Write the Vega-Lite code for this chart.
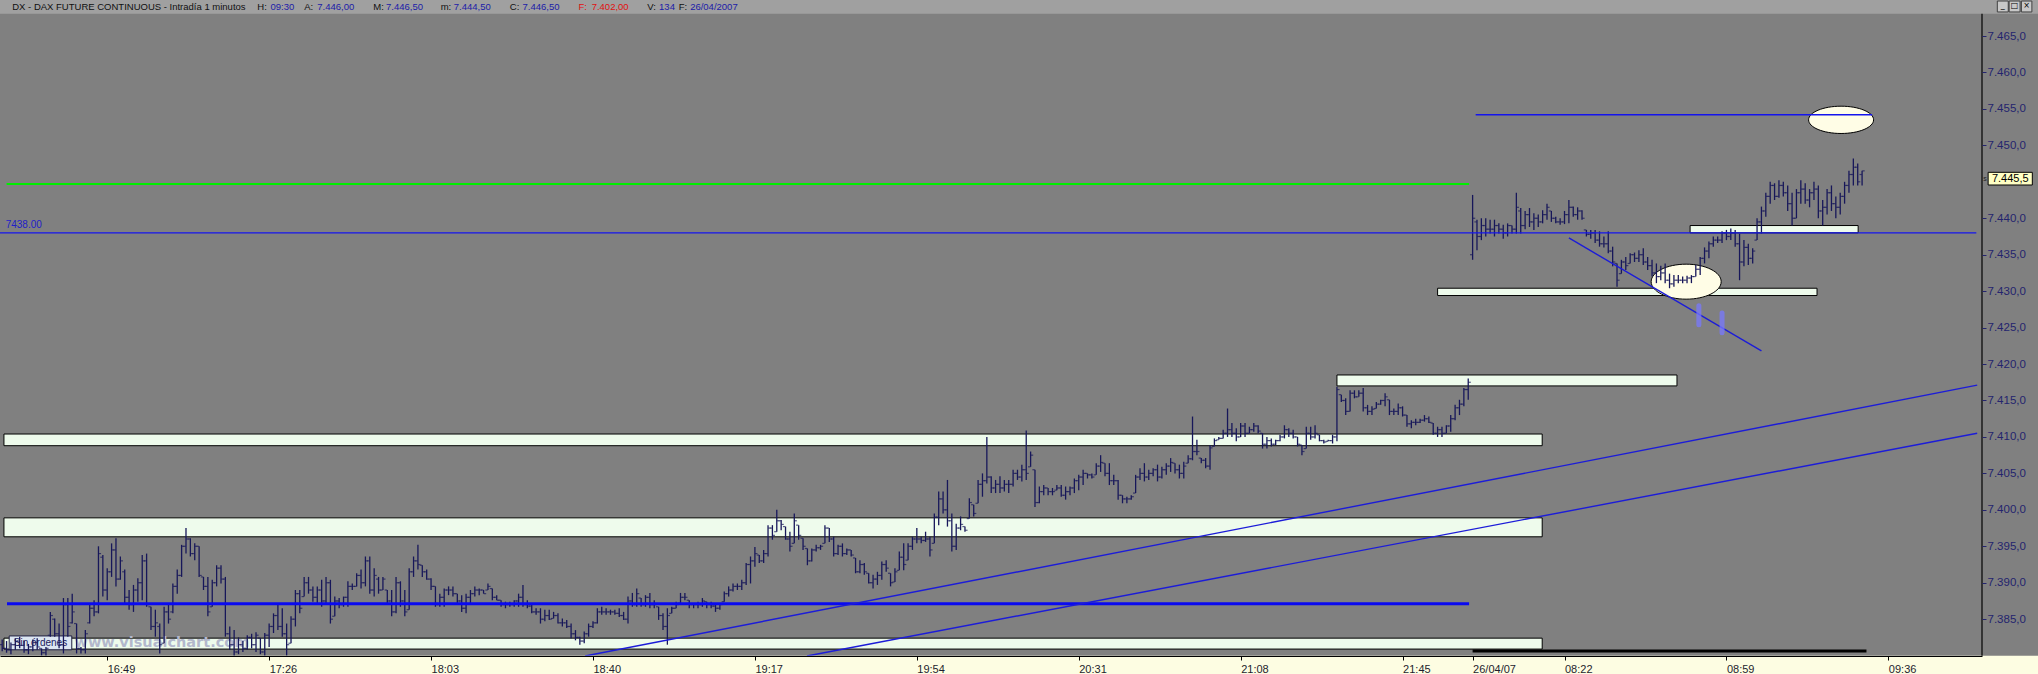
{
"$schema":"https://vega.github.io/schema/vega-lite/v6.json",
"width":1982,"height":674,
"padding":{"left":0,"top":0,"right":56,"bottom":0},
"autosize":{"type":"none"},
"background":"#808080",
"config":{"view":{"stroke":null}},
"datasets":{
"bars":[
{"i":0,"o":7381.5,"h":7382.2,"l":7380.6,"c":7381.0},{"i":1,"o":7381.0,"h":7382.0,"l":7380.4,"c":7380.8},{"i":2,"o":7380.8,"h":7381.8,"l":7380.2,"c":7381.5},{"i":3,"o":7381.5,"h":7382.4,"l":7380.8,"c":7382.0},{"i":4,"o":7382.0,"h":7382.6,"l":7381.0,"c":7381.4},{"i":5,"o":7381.4,"h":7382.0,"l":7380.4,"c":7380.8},{"i":6,"o":7380.8,"h":7381.6,"l":7380.2,"c":7381.2},{"i":7,"o":7381.2,"h":7382.2,"l":7380.6,"c":7381.8},{"i":8,"o":7381.8,"h":7382.4,"l":7380.8,"c":7381.2},{"i":9,"o":7381.0,"h":7381.0,"l":7380.0,"c":7380.4},
{"i":10,"o":7380.4,"h":7381.2,"l":7380.0,"c":7381.0},{"i":11,"o":7382.8,"h":7386.0,"l":7382.6,"c":7385.5},{"i":12,"o":7385.0,"h":7385.1,"l":7382.6,"c":7383.0},{"i":13,"o":7383.0,"h":7384.4,"l":7381.0,"c":7381.5},{"i":14,"o":7381.5,"h":7387.9,"l":7380.3,"c":7387.0},{"i":15,"o":7387.0,"h":7387.9,"l":7382.6,"c":7384.0},{"i":16,"o":7384.5,"h":7388.5,"l":7384.4,"c":7386.0},{"i":17,"o":7384.4,"h":7384.4,"l":7380.3,"c":7381.0},{"i":18,"o":7381.0,"h":7381.2,"l":7380.3,"c":7380.8},{"i":19,"o":7380.8,"h":7383.5,"l":7380.3,"c":7383.0},
{"i":20,"o":7384.5,"h":7387.2,"l":7384.4,"c":7386.5},{"i":21,"o":7386.5,"h":7387.6,"l":7385.4,"c":7386.0},{"i":22,"o":7386.0,"h":7395.0,"l":7385.8,"c":7394.0},{"i":23,"o":7393.5,"h":7393.8,"l":7388.1,"c":7389.0},{"i":24,"o":7389.0,"h":7392.0,"l":7387.6,"c":7391.5},{"i":25,"o":7391.5,"h":7395.4,"l":7390.8,"c":7394.5},{"i":26,"o":7394.5,"h":7396.1,"l":7389.5,"c":7390.5},{"i":27,"o":7390.5,"h":7393.6,"l":7390.4,"c":7393.0},{"i":28,"o":7391.5,"h":7391.8,"l":7387.2,"c":7388.0},{"i":29,"o":7388.0,"h":7389.0,"l":7386.3,"c":7387.0},
{"i":30,"o":7387.0,"h":7389.7,"l":7386.0,"c":7389.0},{"i":31,"o":7389.0,"h":7390.6,"l":7387.4,"c":7390.0},{"i":32,"o":7390.0,"h":7393.8,"l":7387.6,"c":7393.0},{"i":33,"o":7393.0,"h":7394.0,"l":7386.7,"c":7387.0},{"i":34,"o":7386.7,"h":7386.7,"l":7383.5,"c":7384.0},{"i":35,"o":7384.0,"h":7386.3,"l":7382.6,"c":7384.5},{"i":36,"o":7384.0,"h":7384.4,"l":7380.3,"c":7381.5},{"i":37,"o":7381.7,"h":7386.7,"l":7381.7,"c":7386.0},{"i":38,"o":7386.0,"h":7387.2,"l":7384.4,"c":7385.0},{"i":39,"o":7386.0,"h":7389.9,"l":7385.8,"c":7389.5},
{"i":40,"o":7389.5,"h":7391.8,"l":7388.5,"c":7391.0},{"i":41,"o":7391.0,"h":7395.2,"l":7390.8,"c":7395.0},{"i":42,"o":7395.0,"h":7397.5,"l":7394.0,"c":7396.0},{"i":43,"o":7396.0,"h":7396.1,"l":7393.6,"c":7394.0},{"i":44,"o":7394.0,"h":7395.4,"l":7393.1,"c":7395.0},{"i":45,"o":7395.0,"h":7395.0,"l":7390.8,"c":7391.0},{"i":46,"o":7390.8,"h":7390.8,"l":7389.0,"c":7389.5},{"i":47,"o":7389.5,"h":7390.8,"l":7385.4,"c":7386.0},{"i":48,"o":7386.7,"h":7390.4,"l":7386.7,"c":7390.0},{"i":49,"o":7390.0,"h":7392.4,"l":7389.5,"c":7392.0},
{"i":50,"o":7392.0,"h":7392.4,"l":7389.9,"c":7390.5},{"i":51,"o":7390.5,"h":7390.8,"l":7382.6,"c":7383.0},{"i":52,"o":7383.0,"h":7384.0,"l":7380.8,"c":7381.5},{"i":53,"o":7381.5,"h":7383.5,"l":7380.0,"c":7380.5},{"i":54,"o":7380.5,"h":7382.5,"l":7380.2,"c":7381.5},{"i":55,"o":7381.5,"h":7382.0,"l":7380.5,"c":7381.0},{"i":56,"o":7381.0,"h":7382.8,"l":7380.8,"c":7382.5},{"i":57,"o":7382.5,"h":7383.0,"l":7381.0,"c":7381.5},{"i":58,"o":7381.5,"h":7383.2,"l":7380.5,"c":7382.8},{"i":59,"o":7382.4,"h":7382.4,"l":7380.2,"c":7380.5},
{"i":60,"o":7380.5,"h":7383.1,"l":7380.0,"c":7382.8},{"i":61,"o":7382.8,"h":7384.4,"l":7381.2,"c":7384.0},{"i":62,"o":7384.0,"h":7385.8,"l":7383.1,"c":7385.5},{"i":63,"o":7385.5,"h":7387.2,"l":7383.5,"c":7384.0},{"i":64,"o":7384.0,"h":7386.5,"l":7382.6,"c":7383.0},{"i":65,"o":7383.0,"h":7384.4,"l":7380.0,"c":7381.5},{"i":66,"o":7381.7,"h":7385.4,"l":7381.7,"c":7385.0},{"i":67,"o":7385.0,"h":7389.0,"l":7384.0,"c":7388.5},{"i":68,"o":7388.5,"h":7389.0,"l":7385.8,"c":7386.5},{"i":69,"o":7388.1,"h":7390.8,"l":7388.1,"c":7390.0},
{"i":70,"o":7390.0,"h":7390.8,"l":7388.5,"c":7389.0},{"i":71,"o":7389.0,"h":7389.5,"l":7387.4,"c":7388.0},{"i":72,"o":7388.0,"h":7389.5,"l":7387.2,"c":7389.0},{"i":73,"o":7389.0,"h":7390.4,"l":7386.7,"c":7387.5},{"i":74,"o":7387.5,"h":7390.8,"l":7387.2,"c":7390.0},{"i":75,"o":7390.0,"h":7390.4,"l":7384.4,"c":7385.0},{"i":76,"o":7385.4,"h":7388.1,"l":7385.4,"c":7387.5},{"i":77,"o":7387.5,"h":7387.9,"l":7386.5,"c":7387.0},{"i":78,"o":7387.0,"h":7388.1,"l":7386.7,"c":7388.0},{"i":79,"o":7388.0,"h":7390.2,"l":7386.7,"c":7389.5},
{"i":80,"o":7389.5,"h":7389.9,"l":7389.0,"c":7389.5},{"i":81,"o":7389.5,"h":7391.3,"l":7389.5,"c":7391.0},{"i":82,"o":7391.0,"h":7391.8,"l":7389.2,"c":7390.0},{"i":83,"o":7390.0,"h":7393.6,"l":7389.5,"c":7393.0},{"i":84,"o":7393.0,"h":7393.6,"l":7388.5,"c":7389.0},{"i":85,"o":7389.0,"h":7392.0,"l":7388.1,"c":7391.0},{"i":86,"o":7390.5,"h":7390.8,"l":7388.5,"c":7389.0},{"i":87,"o":7389.0,"h":7390.8,"l":7389.0,"c":7390.5},{"i":88,"o":7389.0,"h":7389.0,"l":7387.2,"c":7387.5},{"i":89,"o":7387.5,"h":7389.0,"l":7385.4,"c":7386.0},
{"i":90,"o":7386.0,"h":7390.8,"l":7385.8,"c":7390.0},{"i":91,"o":7390.0,"h":7390.2,"l":7386.7,"c":7387.5},{"i":92,"o":7387.5,"h":7389.0,"l":7385.4,"c":7386.0},{"i":93,"o":7386.3,"h":7392.0,"l":7386.3,"c":7391.5},{"i":94,"o":7391.5,"h":7393.6,"l":7390.8,"c":7393.0},{"i":95,"o":7393.0,"h":7395.2,"l":7391.8,"c":7392.5},{"i":96,"o":7392.4,"h":7392.4,"l":7390.8,"c":7391.5},{"i":97,"o":7391.5,"h":7391.8,"l":7390.4,"c":7390.5},{"i":98,"o":7390.5,"h":7390.6,"l":7389.0,"c":7389.5},{"i":99,"o":7389.5,"h":7389.5,"l":7386.7,"c":7387.0},
{"i":100,"o":7387.0,"h":7388.5,"l":7386.7,"c":7388.0},{"i":101,"o":7388.0,"h":7389.2,"l":7386.7,"c":7389.0},{"i":102,"o":7389.0,"h":7389.5,"l":7388.3,"c":7389.0},{"i":103,"o":7389.0,"h":7389.5,"l":7388.1,"c":7388.5},{"i":104,"o":7388.5,"h":7388.5,"l":7387.2,"c":7387.5},{"i":105,"o":7387.5,"h":7388.3,"l":7386.0,"c":7386.5},{"i":106,"o":7386.5,"h":7388.5,"l":7385.8,"c":7388.0},{"i":107,"o":7388.0,"h":7389.0,"l":7387.0,"c":7388.5},{"i":108,"o":7388.5,"h":7389.5,"l":7388.1,"c":7389.0},{"i":109,"o":7389.0,"h":7389.2,"l":7388.3,"c":7389.0},
{"i":110,"o":7389.0,"h":7389.0,"l":7388.5,"c":7388.5},{"i":111,"o":7389.0,"h":7389.9,"l":7389.0,"c":7389.5},{"i":112,"o":7389.2,"h":7389.2,"l":7387.6,"c":7388.0},{"i":113,"o":7388.0,"h":7388.3,"l":7387.6,"c":7387.6},{"i":114,"o":7387.6,"h":7387.6,"l":7386.7,"c":7387.0},{"i":115,"o":7387.0,"h":7387.4,"l":7386.5,"c":7387.0},{"i":116,"o":7387.0,"h":7387.4,"l":7386.7,"c":7387.0},{"i":117,"o":7387.0,"h":7387.6,"l":7386.7,"c":7387.5},{"i":118,"o":7387.5,"h":7388.5,"l":7386.7,"c":7388.0},{"i":119,"o":7388.0,"h":7389.7,"l":7386.7,"c":7387.0},
{"i":120,"o":7387.0,"h":7387.6,"l":7386.5,"c":7386.8},{"i":121,"o":7386.8,"h":7387.0,"l":7385.8,"c":7386.0},{"i":122,"o":7386.0,"h":7386.5,"l":7385.6,"c":7386.0},{"i":123,"o":7386.0,"h":7386.5,"l":7384.4,"c":7385.0},{"i":124,"o":7385.0,"h":7386.3,"l":7384.7,"c":7385.5},{"i":125,"o":7385.5,"h":7386.3,"l":7384.9,"c":7385.0},{"i":126,"o":7385.1,"h":7386.0,"l":7385.1,"c":7385.5},{"i":127,"o":7385.5,"h":7385.8,"l":7384.4,"c":7384.5},{"i":128,"o":7384.5,"h":7385.1,"l":7384.0,"c":7384.5},{"i":129,"o":7384.5,"h":7384.9,"l":7383.8,"c":7384.0},
{"i":130,"o":7384.0,"h":7384.4,"l":7382.4,"c":7383.0},{"i":131,"o":7383.0,"h":7383.5,"l":7382.1,"c":7382.5},{"i":132,"o":7382.5,"h":7382.6,"l":7381.5,"c":7382.0},{"i":133,"o":7382.0,"h":7383.3,"l":7381.7,"c":7383.0},{"i":134,"o":7383.0,"h":7384.4,"l":7382.6,"c":7384.0},{"i":135,"o":7384.0,"h":7384.7,"l":7383.8,"c":7384.5},{"i":136,"o":7384.5,"h":7386.5,"l":7384.4,"c":7386.0},{"i":137,"o":7386.0,"h":7386.7,"l":7385.6,"c":7386.0},{"i":138,"o":7386.0,"h":7386.5,"l":7385.6,"c":7386.0},{"i":139,"o":7386.0,"h":7386.3,"l":7385.6,"c":7386.0},
{"i":140,"o":7386.0,"h":7386.3,"l":7385.6,"c":7385.8},{"i":141,"o":7385.8,"h":7386.5,"l":7385.3,"c":7385.5},{"i":142,"o":7385.5,"h":7386.0,"l":7384.9,"c":7385.0},{"i":143,"o":7385.0,"h":7388.1,"l":7384.4,"c":7387.5},{"i":144,"o":7387.5,"h":7388.6,"l":7386.7,"c":7387.0},{"i":145,"o":7387.0,"h":7389.2,"l":7386.7,"c":7388.5},{"i":146,"o":7387.9,"h":7387.9,"l":7386.7,"c":7387.0},{"i":147,"o":7387.0,"h":7388.3,"l":7386.7,"c":7388.0},{"i":148,"o":7388.0,"h":7388.6,"l":7386.5,"c":7387.0},{"i":149,"o":7387.0,"h":7387.6,"l":7386.5,"c":7387.0},
{"i":150,"o":7386.7,"h":7386.7,"l":7384.9,"c":7385.5},{"i":151,"o":7385.5,"h":7385.8,"l":7383.5,"c":7384.0},{"i":152,"o":7384.0,"h":7386.5,"l":7381.5,"c":7385.5},{"i":153,"o":7385.8,"h":7386.7,"l":7385.8,"c":7386.5},{"i":154,"o":7386.5,"h":7387.4,"l":7386.5,"c":7387.0},{"i":155,"o":7387.2,"h":7388.6,"l":7387.2,"c":7388.0},{"i":156,"o":7388.0,"h":7388.6,"l":7387.6,"c":7388.0},{"i":157,"o":7387.6,"h":7387.6,"l":7386.5,"c":7387.0},{"i":158,"o":7387.0,"h":7387.2,"l":7386.5,"c":7387.0},{"i":159,"o":7387.0,"h":7387.4,"l":7386.5,"c":7387.0},
{"i":160,"o":7387.0,"h":7387.9,"l":7386.7,"c":7387.5},{"i":161,"o":7387.4,"h":7387.4,"l":7386.5,"c":7387.0},{"i":162,"o":7387.0,"h":7387.4,"l":7386.5,"c":7386.8},{"i":163,"o":7386.8,"h":7387.2,"l":7386.0,"c":7386.5},{"i":164,"o":7386.5,"h":7387.2,"l":7386.3,"c":7387.0},{"i":165,"o":7387.4,"h":7388.8,"l":7387.4,"c":7388.5},{"i":166,"o":7388.5,"h":7389.5,"l":7388.1,"c":7389.0},{"i":167,"o":7389.0,"h":7389.9,"l":7388.8,"c":7389.5},{"i":168,"o":7389.5,"h":7389.9,"l":7389.0,"c":7389.5},{"i":169,"o":7389.5,"h":7390.4,"l":7389.0,"c":7390.0},
{"i":170,"o":7390.0,"h":7392.7,"l":7389.7,"c":7392.5},{"i":171,"o":7392.5,"h":7393.6,"l":7389.9,"c":7393.0},{"i":172,"o":7393.0,"h":7394.9,"l":7392.2,"c":7394.0},{"i":173,"o":7393.8,"h":7393.8,"l":7392.7,"c":7393.0},{"i":174,"o":7393.0,"h":7394.5,"l":7392.7,"c":7394.0},{"i":175,"o":7394.0,"h":7397.9,"l":7393.6,"c":7397.5},{"i":176,"o":7397.5,"h":7397.9,"l":7395.9,"c":7396.5},{"i":177,"o":7397.0,"h":7400.0,"l":7397.0,"c":7398.5},{"i":178,"o":7398.5,"h":7398.6,"l":7397.2,"c":7398.0},{"i":179,"o":7397.7,"h":7397.7,"l":7395.9,"c":7396.0},
{"i":180,"o":7396.0,"h":7397.0,"l":7394.3,"c":7395.0},{"i":181,"o":7395.4,"h":7399.5,"l":7395.4,"c":7398.5},{"i":182,"o":7397.9,"h":7397.9,"l":7395.9,"c":7396.5},{"i":183,"o":7396.1,"h":7396.1,"l":7394.5,"c":7395.0},{"i":184,"o":7394.7,"h":7394.7,"l":7392.4,"c":7393.0},{"i":185,"o":7393.0,"h":7394.7,"l":7392.9,"c":7394.5},{"i":186,"o":7394.5,"h":7395.2,"l":7394.3,"c":7394.8},{"i":187,"o":7394.8,"h":7395.2,"l":7394.5,"c":7395.0},{"i":188,"o":7395.4,"h":7397.9,"l":7395.4,"c":7397.5},{"i":189,"o":7397.5,"h":7397.5,"l":7395.6,"c":7396.0},
{"i":190,"o":7396.0,"h":7396.3,"l":7393.6,"c":7394.0},{"i":191,"o":7394.0,"h":7395.2,"l":7393.8,"c":7395.0},{"i":192,"o":7395.0,"h":7395.4,"l":7393.6,"c":7394.0},{"i":193,"o":7394.0,"h":7394.7,"l":7393.8,"c":7394.5},{"i":194,"o":7394.5,"h":7394.5,"l":7393.6,"c":7393.8},{"i":195,"o":7393.4,"h":7393.4,"l":7391.3,"c":7391.5},{"i":196,"o":7391.5,"h":7393.1,"l":7391.3,"c":7392.5},{"i":197,"o":7392.5,"h":7392.7,"l":7391.1,"c":7391.5},{"i":198,"o":7391.3,"h":7391.3,"l":7389.9,"c":7390.0},{"i":199,"o":7390.0,"h":7391.1,"l":7389.2,"c":7390.5},
{"i":200,"o":7390.5,"h":7391.5,"l":7389.7,"c":7391.0},{"i":201,"o":7391.0,"h":7392.9,"l":7390.4,"c":7392.5},{"i":202,"o":7392.5,"h":7393.1,"l":7391.5,"c":7392.0},{"i":203,"o":7391.3,"h":7391.3,"l":7389.5,"c":7390.0},{"i":204,"o":7390.1,"h":7392.0,"l":7390.1,"c":7391.5},{"i":205,"o":7391.7,"h":7394.3,"l":7391.7,"c":7393.5},{"i":206,"o":7393.5,"h":7395.4,"l":7391.7,"c":7392.5},{"i":207,"o":7393.1,"h":7395.4,"l":7393.1,"c":7395.0},{"i":208,"o":7395.0,"h":7396.3,"l":7394.5,"c":7396.0},{"i":209,"o":7396.0,"h":7397.5,"l":7395.4,"c":7396.0},
{"i":210,"o":7396.0,"h":7396.3,"l":7395.4,"c":7395.8},{"i":211,"o":7395.8,"h":7397.0,"l":7395.6,"c":7396.0},{"i":212,"o":7396.0,"h":7396.3,"l":7393.6,"c":7394.5},{"i":213,"o":7395.4,"h":7399.5,"l":7395.4,"c":7399.0},{"i":214,"o":7399.0,"h":7402.5,"l":7397.9,"c":7401.5},{"i":215,"o":7401.5,"h":7402.5,"l":7399.5,"c":7400.0},{"i":216,"o":7400.0,"h":7404.1,"l":7397.7,"c":7398.5},{"i":217,"o":7398.5,"h":7399.5,"l":7394.3,"c":7395.0},{"i":218,"o":7395.0,"h":7398.1,"l":7394.5,"c":7397.5},{"i":219,"o":7397.5,"h":7399.1,"l":7397.2,"c":7398.0},
{"i":220,"o":7397.7,"h":7397.7,"l":7397.0,"c":7397.2},{"i":221,"o":7398.8,"h":7401.6,"l":7398.8,"c":7401.0},{"i":222,"o":7400.7,"h":7400.7,"l":7399.1,"c":7399.5},{"i":223,"o":7400.9,"h":7404.1,"l":7400.9,"c":7403.5},{"i":224,"o":7403.5,"h":7405.0,"l":7401.8,"c":7404.0},{"i":225,"o":7404.0,"h":7410.0,"l":7403.6,"c":7404.5},{"i":226,"o":7404.5,"h":7404.6,"l":7402.3,"c":7403.0},{"i":227,"o":7403.0,"h":7404.1,"l":7402.3,"c":7403.5},{"i":228,"o":7403.5,"h":7404.6,"l":7402.3,"c":7403.0},{"i":229,"o":7403.0,"h":7404.1,"l":7402.5,"c":7403.5},
{"i":230,"o":7403.5,"h":7404.1,"l":7402.3,"c":7403.5},{"i":231,"o":7403.5,"h":7405.5,"l":7403.2,"c":7405.0},{"i":232,"o":7405.0,"h":7405.5,"l":7404.1,"c":7404.5},{"i":233,"o":7404.5,"h":7406.2,"l":7403.9,"c":7405.5},{"i":234,"o":7405.5,"h":7410.9,"l":7404.1,"c":7405.0},{"i":235,"o":7405.9,"h":7408.0,"l":7405.9,"c":7407.5},{"i":236,"o":7405.5,"h":7405.5,"l":7400.4,"c":7401.0},{"i":237,"o":7401.0,"h":7403.2,"l":7400.9,"c":7402.5},{"i":238,"o":7402.5,"h":7403.4,"l":7402.0,"c":7403.0},{"i":239,"o":7403.0,"h":7403.0,"l":7402.0,"c":7402.5},
{"i":240,"o":7402.5,"h":7403.0,"l":7402.0,"c":7402.5},{"i":241,"o":7402.7,"h":7403.4,"l":7402.7,"c":7403.0},{"i":242,"o":7403.0,"h":7403.4,"l":7401.8,"c":7402.0},{"i":243,"o":7402.0,"h":7403.2,"l":7401.4,"c":7402.5},{"i":244,"o":7402.5,"h":7403.2,"l":7402.0,"c":7403.0},{"i":245,"o":7403.0,"h":7404.3,"l":7402.3,"c":7404.0},{"i":246,"o":7404.0,"h":7404.8,"l":7402.7,"c":7404.5},{"i":247,"o":7404.5,"h":7405.5,"l":7403.4,"c":7405.0},{"i":248,"o":7405.0,"h":7405.0,"l":7404.3,"c":7404.8},{"i":249,"o":7404.8,"h":7405.0,"l":7404.3,"c":7404.5},
{"i":250,"o":7404.8,"h":7406.4,"l":7404.8,"c":7406.0},{"i":251,"o":7406.0,"h":7407.5,"l":7405.2,"c":7406.5},{"i":252,"o":7406.4,"h":7406.4,"l":7404.6,"c":7405.0},{"i":253,"o":7405.0,"h":7406.4,"l":7403.4,"c":7404.0},{"i":254,"o":7404.0,"h":7404.8,"l":7403.4,"c":7404.0},{"i":255,"o":7404.0,"h":7404.1,"l":7401.4,"c":7402.0},{"i":256,"o":7402.0,"h":7402.0,"l":7400.9,"c":7401.5},{"i":257,"o":7401.5,"h":7401.8,"l":7400.9,"c":7401.5},{"i":258,"o":7401.5,"h":7402.0,"l":7401.4,"c":7401.8},{"i":259,"o":7402.3,"h":7404.8,"l":7402.3,"c":7404.5},
{"i":260,"o":7404.5,"h":7405.7,"l":7404.1,"c":7405.0},{"i":261,"o":7405.0,"h":7406.4,"l":7403.9,"c":7404.5},{"i":262,"o":7404.5,"h":7405.5,"l":7404.1,"c":7405.0},{"i":263,"o":7405.0,"h":7405.7,"l":7404.6,"c":7405.5},{"i":264,"o":7405.5,"h":7406.2,"l":7403.9,"c":7404.5},{"i":265,"o":7404.5,"h":7405.9,"l":7404.3,"c":7405.5},{"i":266,"o":7405.5,"h":7406.4,"l":7404.8,"c":7406.0},{"i":267,"o":7406.0,"h":7407.1,"l":7405.2,"c":7406.5},{"i":268,"o":7406.4,"h":7406.4,"l":7405.0,"c":7405.5},{"i":269,"o":7405.5,"h":7406.2,"l":7404.3,"c":7405.0},
{"i":270,"o":7405.0,"h":7406.6,"l":7404.3,"c":7406.0},{"i":271,"o":7406.4,"h":7407.5,"l":7406.4,"c":7407.0},{"i":272,"o":7407.0,"h":7412.8,"l":7406.8,"c":7408.0},{"i":273,"o":7408.0,"h":7409.6,"l":7407.5,"c":7408.0},{"i":274,"o":7407.1,"h":7407.1,"l":7406.4,"c":7406.8},{"i":275,"o":7406.8,"h":7407.1,"l":7405.7,"c":7406.0},{"i":276,"o":7406.0,"h":7408.9,"l":7405.5,"c":7408.5},{"i":277,"o":7408.7,"h":7409.8,"l":7408.7,"c":7409.5},{"i":278,"o":7409.6,"h":7410.0,"l":7409.6,"c":7409.8},{"i":279,"o":7409.8,"h":7411.0,"l":7409.8,"c":7410.5},
{"i":280,"o":7410.5,"h":7413.9,"l":7410.0,"c":7411.0},{"i":281,"o":7411.0,"h":7411.9,"l":7410.0,"c":7410.5},{"i":282,"o":7410.5,"h":7411.2,"l":7409.4,"c":7410.0},{"i":283,"o":7410.0,"h":7411.9,"l":7410.0,"c":7411.5},{"i":284,"o":7411.5,"h":7411.9,"l":7410.0,"c":7410.5},{"i":285,"o":7410.5,"h":7411.4,"l":7410.5,"c":7411.0},{"i":286,"o":7411.0,"h":7411.9,"l":7410.7,"c":7411.5},{"i":287,"o":7411.5,"h":7411.6,"l":7410.5,"c":7410.8},{"i":288,"o":7410.5,"h":7410.5,"l":7408.4,"c":7409.0},{"i":289,"o":7409.0,"h":7410.0,"l":7408.4,"c":7409.5},
{"i":290,"o":7409.5,"h":7409.8,"l":7408.7,"c":7409.0},{"i":291,"o":7409.0,"h":7409.6,"l":7408.9,"c":7409.5},{"i":292,"o":7409.5,"h":7410.3,"l":7409.4,"c":7410.0},{"i":293,"o":7410.0,"h":7411.6,"l":7409.8,"c":7411.0},{"i":294,"o":7411.0,"h":7411.2,"l":7410.0,"c":7410.5},{"i":295,"o":7410.5,"h":7411.0,"l":7409.8,"c":7410.0},{"i":296,"o":7410.0,"h":7410.0,"l":7408.7,"c":7409.0},{"i":297,"o":7408.9,"h":7408.9,"l":7407.5,"c":7408.0},{"i":298,"o":7408.4,"h":7411.4,"l":7408.4,"c":7410.5},{"i":299,"o":7410.5,"h":7411.4,"l":7409.6,"c":7410.0},
{"i":300,"o":7410.0,"h":7411.6,"l":7409.8,"c":7410.5},{"i":301,"o":7410.3,"h":7410.3,"l":7409.4,"c":7409.5},{"i":302,"o":7409.5,"h":7409.6,"l":7409.1,"c":7409.3},{"i":303,"o":7409.4,"h":7409.6,"l":7409.4,"c":7409.5},{"i":304,"o":7409.5,"h":7410.3,"l":7409.1,"c":7410.0},{"i":305,"o":7410.0,"h":7416.9,"l":7409.4,"c":7416.5},{"i":306,"o":7415.8,"h":7415.8,"l":7414.8,"c":7415.0},{"i":307,"o":7415.0,"h":7415.3,"l":7413.0,"c":7413.5},{"i":308,"o":7413.5,"h":7416.4,"l":7413.5,"c":7416.0},{"i":309,"o":7416.0,"h":7416.4,"l":7415.3,"c":7415.5},
{"i":310,"o":7415.5,"h":7416.4,"l":7415.5,"c":7416.0},{"i":311,"o":7416.0,"h":7416.7,"l":7413.5,"c":7414.0},{"i":312,"o":7414.0,"h":7414.4,"l":7413.0,"c":7413.5},{"i":313,"o":7413.5,"h":7414.2,"l":7413.0,"c":7413.8},{"i":314,"o":7413.9,"h":7414.8,"l":7413.9,"c":7414.5},{"i":315,"o":7414.5,"h":7415.1,"l":7414.4,"c":7415.0},{"i":316,"o":7415.0,"h":7416.0,"l":7414.2,"c":7415.5},{"i":317,"o":7415.1,"h":7415.1,"l":7413.0,"c":7413.5},{"i":318,"o":7413.5,"h":7413.9,"l":7413.0,"c":7413.5},{"i":319,"o":7413.5,"h":7414.6,"l":7413.0,"c":7414.0},
{"i":320,"o":7414.0,"h":7414.2,"l":7412.8,"c":7413.0},{"i":321,"o":7413.0,"h":7413.0,"l":7411.4,"c":7411.8},{"i":322,"o":7411.8,"h":7412.3,"l":7411.2,"c":7412.0},{"i":323,"o":7412.0,"h":7412.5,"l":7411.6,"c":7412.0},{"i":324,"o":7412.0,"h":7412.5,"l":7411.9,"c":7412.3},{"i":325,"o":7412.3,"h":7413.0,"l":7412.1,"c":7412.5},{"i":326,"o":7412.5,"h":7412.8,"l":7411.9,"c":7412.0},{"i":327,"o":7411.9,"h":7411.9,"l":7410.3,"c":7410.5},{"i":328,"o":7410.5,"h":7411.4,"l":7410.0,"c":7411.0},{"i":329,"o":7411.0,"h":7411.4,"l":7410.0,"c":7410.5},
{"i":330,"o":7410.5,"h":7411.6,"l":7410.5,"c":7411.5},{"i":331,"o":7411.5,"h":7413.0,"l":7410.7,"c":7412.5},{"i":332,"o":7412.5,"h":7414.4,"l":7412.3,"c":7414.0},{"i":333,"o":7414.0,"h":7415.1,"l":7413.0,"c":7414.5},{"i":334,"o":7414.5,"h":7416.7,"l":7414.2,"c":7416.5},{"i":335,"o":7416.5,"h":7418.0,"l":7415.1,"c":7417.5},
{"i":336,"o":7435.0,"h":7443.2,"l":7434.3,"c":7440.0},{"i":337,"o":7439.5,"h":7439.8,"l":7435.6,"c":7437.5},{"i":338,"o":7437.5,"h":7440.0,"l":7437.0,"c":7439.0},{"i":339,"o":7439.0,"h":7440.0,"l":7437.5,"c":7438.5},
{"i":340,"o":7438.5,"h":7439.8,"l":7437.9,"c":7438.5},{"i":341,"o":7438.5,"h":7439.8,"l":7437.5,"c":7439.0},{"i":342,"o":7439.0,"h":7439.3,"l":7437.9,"c":7438.5},{"i":343,"o":7438.5,"h":7439.1,"l":7437.2,"c":7438.0},{"i":344,"o":7438.0,"h":7439.3,"l":7437.5,"c":7439.0},{"i":345,"o":7439.0,"h":7439.0,"l":7437.9,"c":7438.5},{"i":346,"o":7438.5,"h":7443.5,"l":7437.9,"c":7441.5},{"i":347,"o":7441.0,"h":7441.4,"l":7437.9,"c":7439.0},{"i":348,"o":7439.0,"h":7441.0,"l":7438.5,"c":7440.5},{"i":349,"o":7440.5,"h":7441.4,"l":7438.8,"c":7439.5},
{"i":350,"o":7439.5,"h":7440.7,"l":7438.4,"c":7440.0},{"i":351,"o":7440.0,"h":7440.5,"l":7438.8,"c":7439.5},{"i":352,"o":7439.5,"h":7441.1,"l":7439.3,"c":7440.5},{"i":353,"o":7440.5,"h":7442.0,"l":7439.8,"c":7441.5},{"i":354,"o":7441.0,"h":7441.0,"l":7439.5,"c":7440.0},{"i":355,"o":7440.0,"h":7440.2,"l":7439.3,"c":7439.5},{"i":356,"o":7439.5,"h":7440.0,"l":7439.1,"c":7439.5},{"i":357,"o":7439.5,"h":7441.0,"l":7439.2,"c":7440.5},{"i":358,"o":7440.5,"h":7442.5,"l":7439.3,"c":7441.5},{"i":359,"o":7441.5,"h":7441.6,"l":7440.2,"c":7440.5},
{"i":360,"o":7440.5,"h":7441.5,"l":7439.8,"c":7441.0},{"i":361,"o":7441.0,"h":7441.1,"l":7439.8,"c":7440.0},{"i":362,"o":7438.4,"h":7438.4,"l":7437.5,"c":7437.8},{"i":363,"o":7437.8,"h":7438.4,"l":7437.2,"c":7438.0},{"i":364,"o":7438.0,"h":7438.4,"l":7436.6,"c":7437.0},{"i":365,"o":7437.0,"h":7438.2,"l":7436.1,"c":7436.5},{"i":366,"o":7436.5,"h":7437.5,"l":7436.0,"c":7436.5},{"i":367,"o":7436.5,"h":7438.2,"l":7435.2,"c":7435.5},{"i":368,"o":7435.5,"h":7436.1,"l":7433.4,"c":7434.0},{"i":369,"o":7433.8,"h":7433.8,"l":7430.6,"c":7431.5},
{"i":370,"o":7432.4,"h":7434.3,"l":7432.4,"c":7434.0},{"i":371,"o":7434.0,"h":7434.7,"l":7432.9,"c":7433.5},{"i":372,"o":7433.8,"h":7435.2,"l":7433.8,"c":7435.0},{"i":373,"o":7435.0,"h":7435.3,"l":7434.0,"c":7434.5},{"i":374,"o":7434.5,"h":7435.6,"l":7434.0,"c":7435.0},{"i":375,"o":7435.0,"h":7435.9,"l":7433.6,"c":7434.0},{"i":376,"o":7434.0,"h":7434.7,"l":7432.9,"c":7433.5},{"i":377,"o":7433.5,"h":7434.3,"l":7432.0,"c":7432.5},{"i":378,"o":7432.5,"h":7433.8,"l":7431.1,"c":7432.0},{"i":379,"o":7432.0,"h":7433.5,"l":7431.5,"c":7432.5},
{"i":380,"o":7432.5,"h":7433.8,"l":7431.1,"c":7431.5},{"i":381,"o":7431.5,"h":7432.4,"l":7430.4,"c":7431.0},{"i":382,"o":7431.0,"h":7432.2,"l":7430.6,"c":7431.5},{"i":383,"o":7431.5,"h":7432.2,"l":7431.1,"c":7431.5},{"i":384,"o":7431.5,"h":7432.0,"l":7431.1,"c":7431.5},{"i":385,"o":7431.5,"h":7432.1,"l":7431.1,"c":7431.8},{"i":386,"o":7431.8,"h":7432.2,"l":7431.1,"c":7432.0},{"i":387,"o":7432.0,"h":7433.6,"l":7432.0,"c":7433.0},{"i":388,"o":7433.0,"h":7434.7,"l":7432.2,"c":7434.5},{"i":389,"o":7434.5,"h":7436.0,"l":7433.8,"c":7435.5},
{"i":390,"o":7435.5,"h":7436.8,"l":7434.5,"c":7436.5},{"i":391,"o":7436.5,"h":7437.5,"l":7436.1,"c":7437.0},{"i":392,"o":7437.0,"h":7437.5,"l":7436.6,"c":7437.0},{"i":393,"o":7437.0,"h":7438.2,"l":7436.6,"c":7438.0},{"i":394,"o":7438.0,"h":7438.4,"l":7437.0,"c":7437.5},{"i":395,"o":7437.5,"h":7438.6,"l":7437.0,"c":7438.0},{"i":396,"o":7438.0,"h":7438.4,"l":7436.1,"c":7436.5},{"i":397,"o":7436.5,"h":7437.9,"l":7431.5,"c":7434.0},{"i":398,"o":7434.0,"h":7437.0,"l":7433.4,"c":7436.0},{"i":399,"o":7436.0,"h":7436.5,"l":7433.6,"c":7434.5},
{"i":400,"o":7434.5,"h":7435.9,"l":7433.8,"c":7435.5},{"i":401,"o":7437.0,"h":7440.0,"l":7437.0,"c":7439.5},{"i":402,"o":7439.5,"h":7441.6,"l":7437.9,"c":7441.0},{"i":403,"o":7441.0,"h":7443.5,"l":7440.2,"c":7443.0},{"i":404,"o":7443.0,"h":7445.0,"l":7442.0,"c":7444.5},{"i":405,"o":7444.5,"h":7444.8,"l":7442.5,"c":7443.0},{"i":406,"o":7443.0,"h":7445.2,"l":7442.8,"c":7444.5},{"i":407,"o":7444.5,"h":7445.0,"l":7443.0,"c":7443.5},{"i":408,"o":7443.5,"h":7444.5,"l":7441.0,"c":7442.0},{"i":409,"o":7442.0,"h":7443.5,"l":7439.0,"c":7440.0},
{"i":410,"o":7440.0,"h":7444.0,"l":7440.0,"c":7443.5},{"i":411,"o":7443.5,"h":7445.2,"l":7442.0,"c":7444.0},{"i":412,"o":7444.0,"h":7444.8,"l":7442.0,"c":7442.5},{"i":413,"o":7442.5,"h":7444.0,"l":7441.5,"c":7443.5},{"i":414,"o":7443.5,"h":7445.0,"l":7442.5,"c":7444.0},{"i":415,"o":7444.0,"h":7444.5,"l":7440.0,"c":7441.0},{"i":416,"o":7441.0,"h":7442.5,"l":7439.0,"c":7441.5},{"i":417,"o":7441.5,"h":7444.0,"l":7440.5,"c":7443.5},{"i":418,"o":7443.5,"h":7444.5,"l":7441.0,"c":7442.0},{"i":419,"o":7442.0,"h":7443.0,"l":7440.0,"c":7441.5},
{"i":420,"o":7441.5,"h":7443.5,"l":7440.5,"c":7443.0},{"i":421,"o":7443.0,"h":7445.0,"l":7442.0,"c":7444.5},{"i":422,"o":7444.5,"h":7446.5,"l":7443.5,"c":7446.0},{"i":423,"o":7446.0,"h":7448.2,"l":7444.5,"c":7447.0},{"i":424,"o":7447.0,"h":7447.5,"l":7444.5,"c":7445.0},{"i":425,"o":7446.0,"h":7446.5,"l":7444.5,"c":7446.5}
],
"zones":[
{"x1":0.4,"x2":351.9,"y1":7408.8,"y2":7410.4},
{"x1":0.4,"x2":351.9,"y1":7396.3,"y2":7398.9},
{"x1":0.4,"x2":351.9,"y1":7380.9,"y2":7382.4},
{"x1":305.0,"x2":382.7,"y1":7417.0,"y2":7418.5},
{"x1":328.0,"x2":414.7,"y1":7429.4,"y2":7430.4},
{"x1":385.7,"x2":424.1,"y1":7438.0,"y2":7439.0}
],
"green":[{"x1":1.0,"x2":335.2,"y":7444.7}],
"thick":[{"x1":1.1,"x2":335.2,"y":7387.1}],
"thin":[{"x1":-0.5,"x2":451.1,"y":7438.0},{"x1":336.7,"x2":427.3,"y":7454.2}],
"trends":[
{"x1":133.2,"y1":7379.95,"x2":451.3,"y2":7417.1},
{"x1":183.9,"y1":7379.95,"x2":451.3,"y2":7410.5},
{"x1":358.0,"y1":7437.3,"x2":402.0,"y2":7421.8}
],
"marks":[{"x":387.7,"y1":7425.4,"y2":7428.0},{"x":393.0,"y1":7424.3,"y2":7427.0}],
"volume":[{"x1":336,"x2":426,"y":7380.64}],
"ell1":[{"x":420.2,"y":7453.5}],
"ell2":[{"x":384.8,"y":7431.3}],
"strip":[{"x1":-0.5,"x2":466,"y1":7377.3,"y2":7380.0}],
"band":[{"x1":-0.5,"x2":466,"y1":7468.05,"y2":7470.2}],
"axisline":[{"x":452.4,"y1":7380.0,"y2":7468.05}],
"pricebox":[{"x1":453.8,"x2":463.9,"y1":7444.56,"y2":7446.3}],
"pricetext":[{"x":458.85,"y":7445.4,"t":"7.445,5"}],
"smark":[{"x":453.1,"y":7445.4,"t":"s"}],
"sinbox":[{"x1":1.6,"x2":15.9,"y1":7380.8,"y2":7382.7}],
"sintext":[{"x":8.75,"y":7381.75,"t":"Sin órdenes"}],
"water":[{"x":36.5,"y":7381.7,"t":"www.visualchart.com"}],
"lvl":[{"x":0.8,"y":7439.1,"t":"7438.00"}],
"buttons":[{"x1":455.9,"x2":458.4},{"x1":458.6,"x2":461.1},{"x1":461.4,"x2":463.8}],
"btext":[{"x":457.15,"t":"_"},{"x":459.85,"t":"□"},{"x":462.6,"t":"×"}],
"header":[
{"x":2.3,"t":"DX - DAX FUTURE CONTINUOUS - Intradía 1 minutos","k":"l"},
{"x":58.3,"t":"H:","k":"l"},{"x":61.3,"t":"09:30","k":"v"},
{"x":69.0,"t":"A:","k":"l"},{"x":72.0,"t":"7.446,00","k":"v"},
{"x":84.8,"t":"M:","k":"l"},{"x":87.7,"t":"7.446,50","k":"v"},
{"x":100.2,"t":"m:","k":"l"},{"x":103.2,"t":"7.444,50","k":"v"},
{"x":116.0,"t":"C:","k":"l"},{"x":118.9,"t":"7.446,50","k":"v"},
{"x":131.7,"t":"F:","k":"r"},{"x":134.7,"t":"7.402,00","k":"r"},
{"x":147.4,"t":"V:","k":"l"},{"x":150.1,"t":"134","k":"v"},
{"x":154.6,"t":"F:","k":"l"},{"x":157.2,"t":"26/04/2007","k":"v"}
]
},
"layer":[
{"data":{"name":"band"},"mark":{"type":"rect","fill":"#a0a0a0"},
 "encoding":{"x":{"field":"x1","type":"quantitative","scale":{"domain":[-0.5,452.4],"nice":false,"zero":false}},"x2":{"field":"x2"},
 "y":{"field":"y1","type":"quantitative","scale":{"domain":[7377.48,7469.94],"nice":false,"zero":false}},"y2":{"field":"y2"}}},
{"data":{"name":"zones"},"mark":{"type":"rect","fill":"#eefbec","stroke":"#000000","strokeWidth":1},
 "encoding":{"x":{"field":"x1","type":"quantitative"},"x2":{"field":"x2"},
 "y":{"field":"y1","type":"quantitative"},"y2":{"field":"y2"}}},
{"data":{"name":"sinbox"},"mark":{"type":"rect","fill":"#dce6f2","stroke":"#202040","strokeWidth":1},
 "encoding":{"x":{"field":"x1","type":"quantitative"},"x2":{"field":"x2"},
 "y":{"field":"y1","type":"quantitative"},"y2":{"field":"y2"}}},
{"data":{"name":"water"},"mark":{"type":"text","font":"DejaVu Sans","fontWeight":"bold","fontSize":14.5,"color":"#b3b8cc","align":"center","baseline":"middle"},
 "encoding":{"x":{"field":"x","type":"quantitative"},"y":{"field":"y","type":"quantitative"},"text":{"field":"t"}}},
{"data":{"name":"sintext"},"mark":{"type":"text","font":"Liberation Sans","fontSize":10,"color":"#1a1a5e","align":"center","baseline":"middle"},
 "encoding":{"x":{"field":"x","type":"quantitative"},"y":{"field":"y","type":"quantitative"},"text":{"field":"t"}}},
{"data":{"name":"ell1"},"mark":{"type":"point","shape":"M -1 0 A 1 0.42 0 1 1 1 0 A 1 0.42 0 1 1 -1 0 Z","size":4225,"filled":true,"fill":"#fffde6","stroke":"#000000","strokeWidth":1,"opacity":1},
 "encoding":{"x":{"field":"x","type":"quantitative"},"y":{"field":"y","type":"quantitative"}}},
{"data":{"name":"ell2"},"mark":{"type":"point","shape":"M -1 0 A 1 0.5 0 1 1 1 0 A 1 0.5 0 1 1 -1 0 Z","size":4900,"filled":true,"fill":"#fffde6","stroke":"#000000","strokeWidth":1,"opacity":1},
 "encoding":{"x":{"field":"x","type":"quantitative"},"y":{"field":"y","type":"quantitative"}}},
{"data":{"name":"bars"},"mark":{"type":"rule","color":"#17175a","strokeWidth":1.3},
 "encoding":{"x":{"field":"i","type":"quantitative","scale":{"domain":[-0.5,452.4],"nice":false,"zero":false},
   "axis":{"orient":"bottom","offset":-18,"title":null,"grid":false,"zindex":2,
     "values":[24,61,98,135,172,209,246,283,320,336,357,394,431],
     "labelExpr":"datum.value==24?'16:49':datum.value==61?'17:26':datum.value==98?'18:03':datum.value==135?'18:40':datum.value==172?'19:17':datum.value==209?'19:54':datum.value==246?'20:31':datum.value==283?'21:08':datum.value==320?'21:45':datum.value==336?'26/04/07':datum.value==357?'08:22':datum.value==394?'08:59':'09:36'",
     "labelAlign":"left","labelBaseline":"top","labelPadding":3,"labelFont":"Liberation Sans","labelFontSize":11,"labelColor":"#1e1e2e",
     "labelOverlap":false,"labelBound":false,"labelFlush":false,"tickColor":"#000000","tickSize":4,"tickWidth":1,"domainColor":"#000000","domainWidth":1}},
  "y":{"field":"l","type":"quantitative","scale":{"domain":[7377.48,7469.94],"nice":false,"zero":false},
   "axis":{"orient":"right","title":null,"grid":false,"zindex":2,"domain":false,
     "values":[7385,7390,7395,7400,7405,7410,7415,7420,7425,7430,7435,7440,7450,7455,7460,7465],
     "labelExpr":"replace(replace(replace(format(datum.value, ',.1f'), ',', '_'), '.', ','), '_', '.')",
     "labelFont":"Liberation Sans","labelFontSize":11.5,"labelColor":"#24246e","labelPadding":1,"tickColor":"#24246e","tickSize":4,"labelOverlap":false,"labelBound":false,"labelFlush":false}},
  "y2":{"field":"h"}}},
{"data":{"name":"bars"},"mark":{"type":"tick","orient":"horizontal","size":2.4,"thickness":1.2,"xOffset":-1.4,"color":"#17175a"},
 "encoding":{"x":{"field":"i","type":"quantitative"},"y":{"field":"o","type":"quantitative"}}},
{"data":{"name":"bars"},"mark":{"type":"tick","orient":"horizontal","size":2.4,"thickness":1.2,"xOffset":1.4,"color":"#17175a"},
 "encoding":{"x":{"field":"i","type":"quantitative"},"y":{"field":"c","type":"quantitative"}}},
{"data":{"name":"green"},"mark":{"type":"rule","color":"#00ee00","strokeWidth":2},
 "encoding":{"x":{"field":"x1","type":"quantitative"},"x2":{"field":"x2"},"y":{"field":"y","type":"quantitative"}}},
{"data":{"name":"thick"},"mark":{"type":"rule","color":"#0a0af0","strokeWidth":3},
 "encoding":{"x":{"field":"x1","type":"quantitative"},"x2":{"field":"x2"},"y":{"field":"y","type":"quantitative"}}},
{"data":{"name":"thin"},"mark":{"type":"rule","color":"#1414ee","strokeWidth":1.4},
 "encoding":{"x":{"field":"x1","type":"quantitative"},"x2":{"field":"x2"},"y":{"field":"y","type":"quantitative"}}},
{"data":{"name":"trends"},"mark":{"type":"rule","color":"#1c1cd8","strokeWidth":1.4},
 "encoding":{"x":{"field":"x1","type":"quantitative"},"x2":{"field":"x2"},"y":{"field":"y1","type":"quantitative"},"y2":{"field":"y2"}}},
{"data":{"name":"marks"},"mark":{"type":"rule","color":"#7878ff","strokeWidth":5,"opacity":0.75,"strokeCap":"round"},
 "encoding":{"x":{"field":"x","type":"quantitative"},"y":{"field":"y1","type":"quantitative"},"y2":{"field":"y2"}}},
{"data":{"name":"volume"},"mark":{"type":"rule","color":"#000000","strokeWidth":3},
 "encoding":{"x":{"field":"x1","type":"quantitative"},"x2":{"field":"x2"},"y":{"field":"y","type":"quantitative"}}},
{"data":{"name":"strip"},"mark":{"type":"rect","fill":"#fdfde2"},
 "encoding":{"x":{"field":"x1","type":"quantitative"},"x2":{"field":"x2"},"y":{"field":"y1","type":"quantitative"},"y2":{"field":"y2"}}},
{"data":{"name":"axisline"},"mark":{"type":"rule","color":"#000000","strokeWidth":1.2},
 "encoding":{"x":{"field":"x","type":"quantitative"},"y":{"field":"y1","type":"quantitative"},"y2":{"field":"y2"}}},
{"data":{"name":"pricebox"},"mark":{"type":"rect","fill":"#ffffc4","stroke":"#000000","strokeWidth":1},
 "encoding":{"x":{"field":"x1","type":"quantitative"},"x2":{"field":"x2"},"y":{"field":"y1","type":"quantitative"},"y2":{"field":"y2"}}},
{"data":{"name":"pricetext"},"mark":{"type":"text","font":"Liberation Sans","fontSize":11,"color":"#000000","align":"center","baseline":"middle"},
 "encoding":{"x":{"field":"x","type":"quantitative"},"y":{"field":"y","type":"quantitative"},"text":{"field":"t"}}},
{"data":{"name":"smark"},"mark":{"type":"text","font":"Liberation Sans","fontSize":7,"color":"#202020","align":"center","baseline":"middle"},
 "encoding":{"x":{"field":"x","type":"quantitative"},"y":{"field":"y","type":"quantitative"},"text":{"field":"t"}}},
{"data":{"name":"lvl"},"mark":{"type":"text","font":"Liberation Sans","fontSize":10,"color":"#2020c8","align":"left","baseline":"middle"},
 "encoding":{"x":{"field":"x","type":"quantitative"},"y":{"field":"y","type":"quantitative"},"text":{"field":"t"}}},
{"data":{"name":"buttons"},"mark":{"type":"rect","fill":"#c8c8c8","stroke":"#404040","strokeWidth":1},
 "encoding":{"x":{"field":"x1","type":"quantitative"},"x2":{"field":"x2"},"y":{"datum":7468.3,"type":"quantitative"},"y2":{"datum":7469.8}}},
{"data":{"name":"btext"},"mark":{"type":"text","font":"DejaVu Sans","fontSize":8,"color":"#000000","align":"center","baseline":"middle"},
 "encoding":{"x":{"field":"x","type":"quantitative"},"y":{"datum":7469.05,"type":"quantitative"},"text":{"field":"t"}}},
{"data":{"name":"header"},"mark":{"type":"text","font":"Liberation Sans","fontSize":9.5,"align":"left","baseline":"middle"},
 "encoding":{"x":{"field":"x","type":"quantitative"},"y":{"datum":7469.0,"type":"quantitative"},
 "text":{"field":"t"},
 "color":{"field":"k","type":"nominal","scale":{"domain":["l","v","r"],"range":["#101010","#1c1ca8","#e01010"]},"legend":null}}}
]
}
